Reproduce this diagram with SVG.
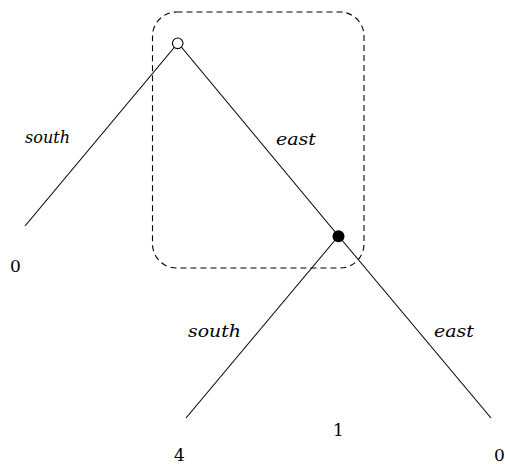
<svg xmlns="http://www.w3.org/2000/svg" width="505" height="464" viewBox="0 0 505 464">
<style>
.e{stroke:#000;stroke-width:1.1;fill:none}
.l{font-family:'DejaVu Serif',serif;font-style:italic;font-size:16.5px;fill:#000}
.n{font-family:'DejaVu Serif',serif;font-size:17px;fill:#000}
</style>
<rect x="152.5" y="12" width="211.5" height="256" rx="24" ry="24" fill="none" stroke="#000" stroke-width="1.1" stroke-dasharray="6,4"/>
<g id="connectors">
<line class="e" x1="178" y1="43" x2="25" y2="226"/>
<line class="e" x1="178" y1="43" x2="338.5" y2="236"/>
<line class="e" x1="338.5" y1="236" x2="186" y2="418"/>
<line class="e" x1="338.5" y1="236" x2="491" y2="418"/>
<text class="l" x="25" y="143" textLength="45" lengthAdjust="spacingAndGlyphs">south</text>
<text class="l" x="276" y="145" textLength="40" lengthAdjust="spacingAndGlyphs">east</text>
<text class="l" x="188" y="337" textLength="53" lengthAdjust="spacingAndGlyphs">south</text>
<text class="l" x="434" y="337" textLength="40" lengthAdjust="spacingAndGlyphs">east</text>
</g>
<g id="root"><circle cx="177.7" cy="43.3" r="5.3" fill="#fff" stroke="#000" stroke-width="1.1"/></g>
<g id="node2"><circle cx="338.5" cy="236.3" r="6" fill="#000"/></g>
<g id="leaf1"><text class="n" x="10" y="272">0</text></g>
<g id="leaf2"><text class="n" x="174" y="461">4</text></g>
<g id="leaf3"><text class="n" x="333" y="436">1</text></g>
<g id="leaf4"><text class="n" x="494" y="461">0</text></g>
</svg>
